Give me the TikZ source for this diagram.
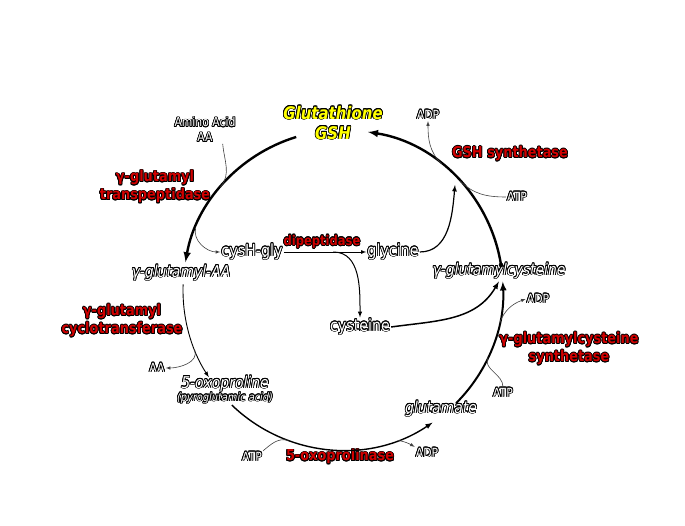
\documentclass[tikz,border=0pt]{standalone}
\usepackage{fontspec}
\setmainfont{DejaVu Sans}[FakeStretch=0.86]
\usepackage{tikz}
\usepackage{xcolor}
\usepackage{contour}
\contourlength{0.75pt}
\definecolor{enzred}{RGB}{210,0,0}
\definecolor{gshyellow}{RGB}{255,255,0}
\newcommand{\shd}[1]{\contour{black}{#1}}

\begin{document}
\begin{tikzpicture}[x=1pt, y=1pt, >=latex,
    met/.style={font=\fontsize{16.2}{18}\selectfont\itshape, text=white, inner sep=1pt},
    cmp/.style={font=\fontsize{16.6}{18}\selectfont, text=white, inner sep=1pt},
    enz/.style={font=\fontsize{15}{18}\selectfont\bfseries, text=enzred, align=center, inner sep=1pt},
    cof/.style={font=\fontsize{12.6}{15}\selectfont, text=white, align=center, inner sep=1pt},
    branch/.style={black!75, line width=0.6pt}]
  \useasboundingbox (0,0) rectangle (685,526);
  % Metabolites
  \node[font=\fontsize{17.4}{20}\selectfont\bfseries\itshape, text=gshyellow, align=center, inner sep=1pt]
    (gsh) at (333,403) {\shd{Glutathione}\\\shd{GSH}};
  \node[met] (gaa) at (181,253) {\shd{γ-glutamyl-AA}};
  \node[met, font=\fontsize{16.2}{13}\selectfont\itshape, align=center] (oxo) at (225,136)
    {\shd{5-oxoproline}\\{\fontsize{11.4}{12}\selectfont\shd{(pyroglutamic acid)}}};
  \node[met] (glu) at (441,117) {\shd{glutamate}};
  \node[met] (gcys) at (499,255) {\shd{γ-glutamylcysteine}};
  \node[cmp] (cysgly) at (252,274) {\shd{cysH-gly}};
  \node[cmp] (gly) at (393,274) {\shd{glycine}};
  \node[cmp] (cys) at (360,199) {\shd{cysteine}};
  % Enzymes
  \node[enz] (ggt) at (155,339) {\shd{γ-glutamyl}\\\shd{transpeptidase}};
  \node[enz, font=\fontsize{13.4}{15}\selectfont\bfseries] (dipep) at (322,284) {\shd{dipeptidase}};
  \node[enz] (gshs) at (510,372) {\shd{GSH synthetase}};
  \node[enz] (gcs) at (569,177) {\shd{γ-glutamylcysteine}\\\shd{synthetase}};
  \node[enz] (gct) at (122,205) {\shd{γ-glutamyl}\\\shd{cyclotransferase}};
  \node[enz] (oxoase) at (340,69) {\shd{5-oxoprolinase}};
  % Cofactors
  \node[cof] (aain) at (205,396) {\shd{Amino Acid}\\\shd{AA}};
  \node[cof] (adp1) at (428,411) {\shd{ADP}};
  \node[cof] (atp1) at (517,329) {\shd{ATP}};
  \node[cof] (adp2) at (538,227) {\shd{ADP}};
  \node[cof] (atp2) at (503,133) {\shd{ATP}};
  \node[cof] (aaout) at (157,158) {\shd{AA}};
  \node[cof] (atp3) at (252,69) {\shd{ATP}};
  \node[cof] (adp3) at (427,73) {\shd{ADP}};
  % Points on the cycle
  \coordinate (c) at (343,236);
  \path (c) ++(107:160) coordinate (gshout)
        (c) ++(178:160) coordinate (gaaout)
        (c) ++(226:160) coordinate (oxoout)
        (c) ++(-45:160) coordinate (gluout)
        (c) ++(9:160)   coordinate (gcysout)
        (c) ++(3:160)   coordinate (gcysin)
        (c) ++(140:160) coordinate (aajoin)
        (c) ++(157:160) coordinate (cgsplit)
        (c) ++(52:160)  coordinate (adpsplit1)
        (c) ++(43:160)  coordinate (atpjoin1)
        (c) ++(-12:160) coordinate (adpsplit2)
        (c) ++(-25:160) coordinate (atpjoin2)
        (c) ++(202:160) coordinate (aasplit)
        (c) ++(250:160) coordinate (atpjoin3)
        (c) ++(290:160) coordinate (adpsplit3);
  \coordinate (glyend) at (455,341);
  % Main cycle
  \draw[->, line width=2.4pt] (gshout) arc[start angle=107, end angle=170, radius=160pt];
  \draw[->, line width=0.9pt] (gaaout) arc[start angle=178, end angle=213, radius=160pt];
  \draw[->, line width=1.4pt] (oxoout) arc[start angle=226, end angle=304, radius=160pt];
  \draw[->, line width=2pt] (gluout) arc[start angle=-45, end angle=3, radius=160pt];
  \draw[->, line width=2.4pt] (gcysout) arc[start angle=9, end angle=81, radius=160pt];
  \fill (gcysout) circle (2.3pt);
  % Side reactions
  \draw[->, line width=0.8pt] (cysgly.east) -- coordinate[pos=0.6] (dsplit) (gly.west);
  \draw[->, line width=1pt] (dsplit) to[out=0, in=90] (cys.north);
  \draw[->, line width=1.5pt] (cys.east) to[out=8, in=240] ([xshift=-4pt]gcysin);
  \draw[->, line width=1.2pt] (gly.east) to[out=0, in=-95] (glyend);
  \draw[->, branch] (cgsplit) to[out=-105, in=180] (cysgly.west);
  % Cofactors in and out
  \draw[branch] ([xshift=-14pt]aain.south east) to[out=-85, in=50] (aajoin);
  \draw[->, branch] (adpsplit1) to[out=135, in=-90] (adp1.south);
  \draw[branch] (atp1.west) to[out=180, in=-45] (atpjoin1);
  \draw[->, branch] (adpsplit2) to[out=70, in=200] (adp2.west);
  \draw[branch] (atp2.north) to[out=90, in=-115] (atpjoin2);
  \draw[->, branch] (aasplit) to[out=-70, in=0] (aaout.east);
  \draw[branch] (atp3.north east) to[out=40, in=165] (atpjoin3);
  \draw[->, branch] (adpsplit3) to[out=-10, in=150] (adp3.north west);
\end{tikzpicture}
\end{document}
